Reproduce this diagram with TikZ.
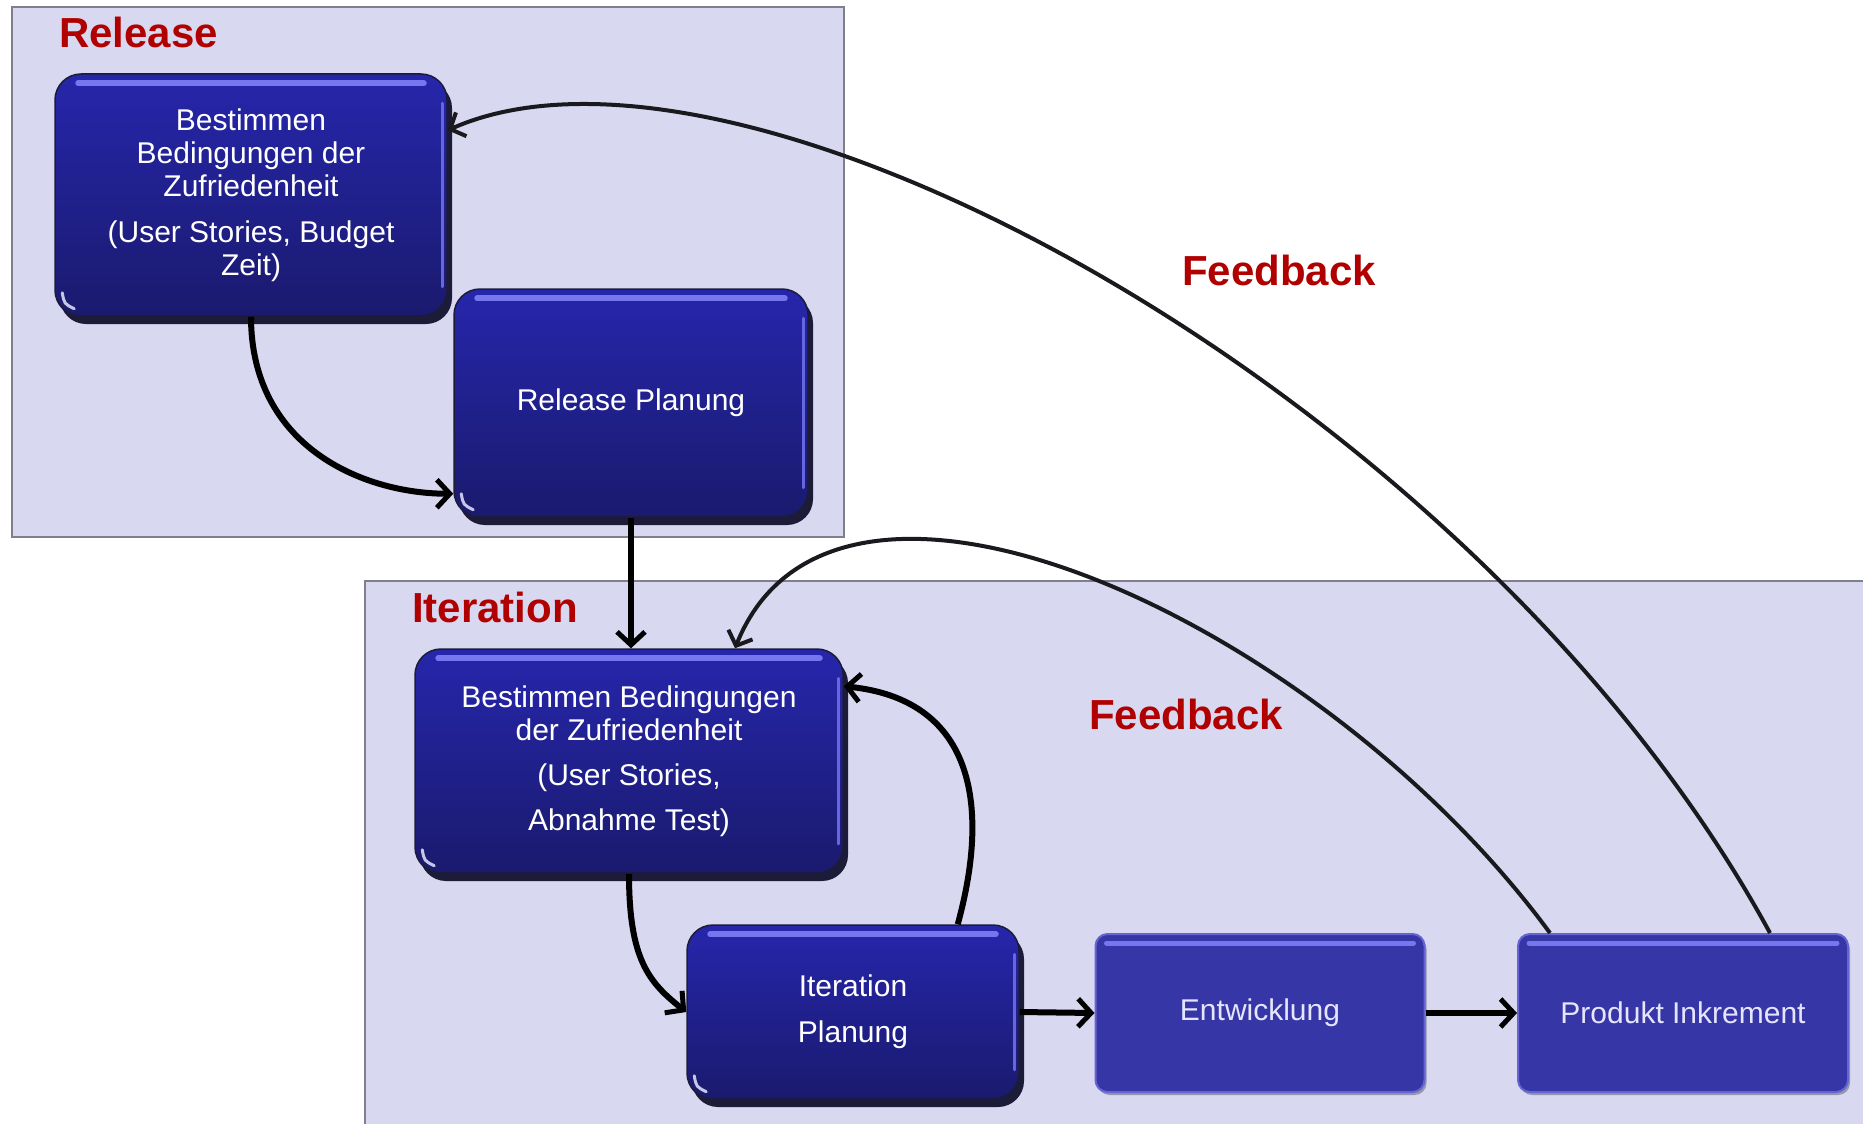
\documentclass[tikz,border=0pt]{standalone}
\usepackage{fontspec}
\setmainfont{Liberation Sans}
\usetikzlibrary{arrows.meta,shadows,calc}
\definecolor{panelfill}{RGB}{216,216,240}
\definecolor{panelline}{RGB}{128,128,140}
\definecolor{boxtop}{RGB}{38,38,172}
\definecolor{boxbot}{RGB}{26,26,110}
\definecolor{boxshadow}{RGB}{28,28,56}
\definecolor{hilite}{RGB}{118,118,238}
\definecolor{flatbox}{RGB}{54,54,166}
\definecolor{flatedge}{RGB}{100,100,210}
\definecolor{labelred}{RGB}{176,0,0}
\definecolor{fbline}{RGB}{25,25,30}
\begin{document}
\begin{tikzpicture}[x=1pt,y=-1pt,
  panel/.style={fill=panelfill, draw=panelline, line width=2pt},
  glossy/.style={rounded corners=26pt, top color=boxtop, bottom color=boxbot,
    draw=boxshadow, line width=1.5pt, text=white, align=center, inner sep=0pt,
    font=\fontsize{30}{33}\selectfont,
    drop shadow={shadow xshift=5pt, shadow yshift=-8pt, fill=boxshadow, opacity=1}},
  flatbox/.style={rounded corners=12pt, fill=flatbox, draw=flatedge, line width=2pt,
    text=white!90!blue, align=center, inner sep=0pt,
    font=\fontsize{30}{33}\selectfont,
    drop shadow={shadow xshift=2pt, shadow yshift=-3pt, fill=boxshadow, opacity=0.35}},
  hl/.style={draw=hilite, line width=6pt, line cap=round},
  hlside/.style={draw=hilite!80!boxtop, line width=3pt, line cap=round},
  glint/.style={draw=white!80!hilite, line width=3pt, line cap=round, opacity=0.85},
  lbl/.style={text=labelred, font=\bfseries\fontsize{42}{46}\selectfont, inner sep=0pt},
  flow/.style={draw=black, line width=6pt, -{Straight Barb[length=13pt,width=28pt,line width=5pt]}},
  fb/.style={draw=fbline, line width=4pt, -{Straight Barb[length=12pt,width=26pt,line width=4pt]}}
]
\useasboundingbox (0,0) rectangle (1863,1124);
\fill[white] (0,0) rectangle (1863,1124);

% panels
\draw[panel] (12,7) rectangle (844,537);
\fill[panelfill] (365,581) rectangle (1863,1124);
\draw[draw=panelline, line width=2pt] (365,1124) -- (365,581) -- (1863,581);

% labels
\node[lbl, anchor=base west] (relLbl) at (59,48) {Release};
\node[lbl, anchor=base west] (itLbl) at (412,622) {Iteration};
\node[lbl, anchor=base west] (fbTop) at (1182,285) {Feedback};
\node[lbl, anchor=base west] (fbLow) at (1089,729) {Feedback};

% boxes
\node[glossy, minimum width=392pt, minimum height=242pt] (A) at (251,195)
  {Bestimmen\\Bedingungen der\\Zufriedenheit\\[13pt](User Stories, Budget\\Zeit)};
\node[glossy, minimum width=354pt, minimum height=228pt] (B) at (631,403)
  {Release Planung};
\node[glossy, minimum width=428pt, minimum height=224pt] (C) at (629,761)
  {Bestimmen Bedingungen\\der Zufriedenheit\\[12pt](User Stories,\\[12pt]Abnahme Test)};
\node[glossy, minimum width=332pt, minimum height=174pt] (D) at (853,1012)
  {Iteration\\[13pt]Planung};
\node[flatbox, minimum width=329pt, minimum height=158pt] (E) at (1260,1013)
  {Entwicklung};
\node[flatbox, minimum width=330pt, minimum height=158pt] (F) at (1683,1013)
  {Produkt Inkrement};

% glossy highlights
\foreach \n in {A,B,C,D}{
  \draw[hl] ([xshift=24pt,yshift=-10pt]\n.north west) -- ([xshift=-24pt,yshift=-10pt]\n.north east);
  \draw[hlside] ([xshift=-5pt,yshift=-30pt]\n.north east) -- ([xshift=-5pt,yshift=30pt]\n.south east);
  \draw[glint] ([xshift=8pt,yshift=24pt]\n.south west) .. controls ([xshift=10pt,yshift=13pt]\n.south west) .. ([xshift=20pt,yshift=8pt]\n.south west);
}
\foreach \n in {E,F}{
  \draw[draw=hilite, line width=5pt, line cap=round] ([xshift=12pt,yshift=-10pt]\n.north west) -- ([xshift=-12pt,yshift=-10pt]\n.north east);
}

% flow arrows
\draw[flow] (A.south) .. controls +(0,130) and +(-90,0) .. ([yshift=24pt]B.south west);
\draw[flow] (B.south) -- (B.south |- C.north);
\draw[flow] (C.south) .. controls +(0,85) and +(-38,-30) .. (D.west);
\draw[flow] ([xshift=-62pt]D.north east) .. controls +(34,-124) and +(127,13) .. ([yshift=-38pt]C.north east);
\draw[flow] (D.east) -- (E.west);
\draw[flow] (E.east) -- (F.west);

% feedback arrows
\draw[fb] ([xshift=-79pt]F.north east) .. controls +(-290,-533) and +(296,-131) .. ([yshift=-57pt]A.north east);
\draw[fb] ([xshift=33pt]F.north west) .. controls +(-230,-313) and +(100,-250) .. ([xshift=106pt]C.north);
\end{tikzpicture}
\end{document}
